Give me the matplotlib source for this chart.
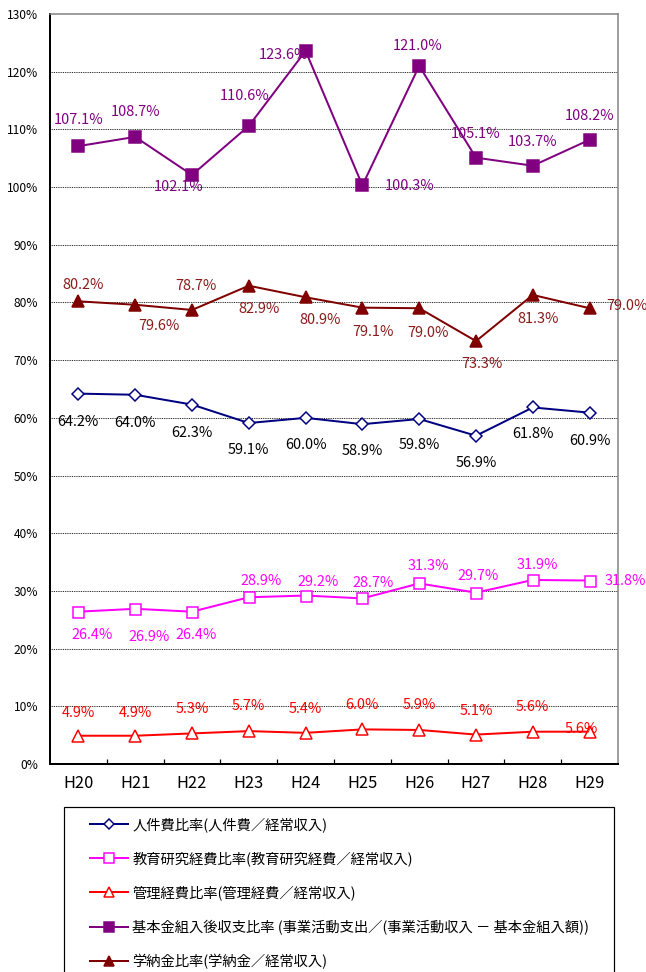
import numpy as np
import matplotlib
matplotlib.use("Agg")
import matplotlib.pyplot as plt
from matplotlib.patches import Rectangle
from matplotlib.ticker import FuncFormatter, FixedLocator

plt.rcParams['font.family'] = ['Noto Sans CJK JP', 'DejaVu Sans']

# データ (%)
years = ['H20', 'H21', 'H22', 'H23', 'H24', 'H25', 'H26', 'H27', 'H28', 'H29']
jinkenhi = [64.2, 64.0, 62.3, 59.1, 60.0, 58.9, 59.8, 56.9, 61.8, 60.9]
kyoiku = [26.4, 26.9, 26.4, 28.9, 29.2, 28.7, 31.3, 29.7, 31.9, 31.8]
kanri = [4.9, 4.9, 5.3, 5.7, 5.4, 6.0, 5.9, 5.1, 5.6, 5.6]
kihonkin = [107.1, 108.7, 102.1, 110.6, 123.6, 100.3, 121.0, 105.1, 103.7, 108.2]
gakunokin = [80.2, 79.6, 78.7, 82.9, 80.9, 79.1, 79.0, 73.3, 81.3, 79.0]

labels = ['人件費比率(人件費／経常収入)',
          '教育研究経費比率(教育研究経費／経常収入)',
          '管理経費比率(管理経費／経常収入)',
          '基本金組入後収支比率 (事業活動支出／(事業活動収入 － 基本金組入額))',
          '学納金比率(学納金／経常収入)']

# ラベルのずらし (px)
off_jinken = [(0, -28), (0, -28), (0, -28), (0, -27), (0, -27), (0, -27), (0, -26), (0, -27), (0, -27), (0, -28)]
off_kyoiku = [(14, -23), (14, -28), (4, -23), (12, 16), (13, 14), (11, 15), (9, 17), (2, 17), (5, 15), (36, 0)]
off_kanri = [(0, 23), (0, 23), (0, 24), (0, 25), (0, 24), (0, 24), (0, 25), (0, 24), (0, 25), (-8, 3)]
off_kihon = [(0, 26), (0, 25), (-13, -12), (-4, 30), (-22, -4), (47, -1), (-2, 20), (0, 24), (0, 24), (0, 24)]
off_gaku = [(5, 16), (24, -21), (4, 24), (10, -23), (15, -23), (11, -24), (9, -25), (6, -23), (5, -24), (37, 2)]

W, H = 646, 972
fig = plt.figure(figsize=(W / 72, H / 72), dpi=72)
ax = fig.add_axes([50 / W, 208 / H, 568 / W, 750 / H])

x = np.arange(len(years))

series = [
    (jinkenhi, '#000080', 'D', 'white', 8, off_jinken, 'black'),
    (kyoiku, '#FF00FF', 's', 'white', 11, off_kyoiku, '#FF00FF'),
    (kanri, '#FF0000', '^', 'white', 12, off_kanri, '#FF0000'),
    (kihonkin, '#800080', 's', '#800080', 12, off_kihon, '#800080'),
    (gakunokin, '#800000', '^', '#800000', 12, off_gaku, '#8B1A1A'),
]

handles = []
for vals, col, mk, fc, ms, offs, tc in series:
    ln, = ax.plot(x, vals, color=col, lw=2, marker=mk, markersize=ms,
                  markerfacecolor=fc, markeredgecolor=col, markeredgewidth=1.5,
                  zorder=3)
    handles.append(ln)
    for i, v in enumerate(vals):
        ax.annotate('%.1f%%' % v, (x[i], v), xytext=offs[i], textcoords='offset points',
                    ha='center', va='center', fontsize=14.5, color=tc,
                    annotation_clip=False, zorder=4)

ax.set_xlim(-0.5, 9.5)
ax.set_ylim(0, 130)
ax.set_yticks(np.arange(0, 131, 10))
ax.yaxis.set_major_formatter(FuncFormatter(lambda v, p: '%d%%' % v))
ax.set_xticks(x)
ax.set_xticklabels(years)
ax.xaxis.set_minor_locator(FixedLocator(np.arange(0.5, 9, 1)))
ax.tick_params(axis='y', length=0, pad=12, labelsize=12)
ax.tick_params(axis='x', which='major', length=0, pad=11, labelsize=16.5)
ax.tick_params(axis='x', which='minor', direction='in', length=5, width=1.2, color='black')

for yv in range(10, 130, 10):
    ax.axhline(yv, color='black', lw=0.9, ls=(0, (1, 1)), zorder=1)

ax.spines['left'].set_color('black')
ax.spines['left'].set_linewidth(2)
ax.spines['bottom'].set_color('black')
ax.spines['bottom'].set_linewidth(2)
ax.spines['top'].set_color('#808080')
ax.spines['top'].set_linewidth(1.5)
ax.spines['right'].set_color('#808080')
ax.spines['right'].set_linewidth(1.5)

# 凡例
fig.add_artist(Rectangle((64 / W, -0.1), 550 / W, (H - 807) / H + 0.1,
                         transform=fig.transFigure, fill=False,
                         edgecolor='black', lw=1.2))
fig.legend(handles, labels, loc='upper left', bbox_to_anchor=(90 / W, 1 - 817 / H),
           bbox_transform=fig.transFigure, frameon=False, borderpad=0,
           borderaxespad=0, handlelength=38 / 14.3, handletextpad=0.3,
           labelspacing=1.35, fontsize=14.3, markerscale=0.85)

fig.savefig('out.png', dpi=72)
